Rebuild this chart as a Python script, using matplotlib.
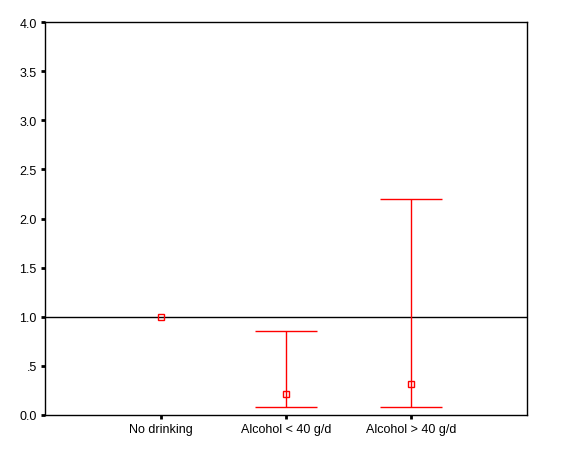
import matplotlib
matplotlib.use("Agg")
import matplotlib.pyplot as plt

# odds ratio estimates with 95% CI
groups = ["No drinking", "Alcohol < 40 g/d", "Alcohol > 40 g/d"]
estimate = [1.0, 0.21, 0.32]
lower = [None, 0.08, 0.08]
upper = [None, 0.85, 2.20]

y_ticks = [0.0, 0.5, 1.0, 1.5, 2.0, 2.5, 3.0, 3.5, 4.0]
y_tick_labels = ["0.0", ".5", "1.0", "1.5", "2.0", "2.5", "3.0", "3.5", "4.0"]

RED = "#ff0000"

plt.rcParams["font.family"] = ["Liberation Sans", "DejaVu Sans"]

fig = plt.figure(figsize=(5.65, 4.52), dpi=100)
ax = fig.add_axes([45 / 565, 1 - 416 / 452, (527 - 45) / 565, (416 - 23) / 452])

xs = list(range(1, len(groups) + 1))
for x, est, lo, hi in zip(xs, estimate, lower, upper):
    if lo is not None:
        ax.errorbar(x, est, yerr=[[est - lo], [hi - est]], fmt="none",
                    ecolor=RED, elinewidth=1, capsize=22.5, capthick=1, zorder=3)
    ax.plot(x, est, marker="s", markersize=5, markerfacecolor="none",
            markeredgecolor=RED, markeredgewidth=1, linestyle="none", zorder=4)

ax.axhline(1.0, color="black", linewidth=1, zorder=2)

ax.set_xlim(0.074, 3.928)
ax.set_ylim(0, 4.0)
ax.set_xticks(xs)
ax.set_xticklabels(groups, fontsize=9)
ax.set_yticks(y_ticks)
ax.set_yticklabels(y_tick_labels, fontsize=9)
ax.tick_params(direction="out", length=3, width=2, pad=3, colors="black")

for spine in ax.spines.values():
    spine.set_linewidth(1)
    spine.set_color("black")

fig.savefig("out.png", dpi=100)
